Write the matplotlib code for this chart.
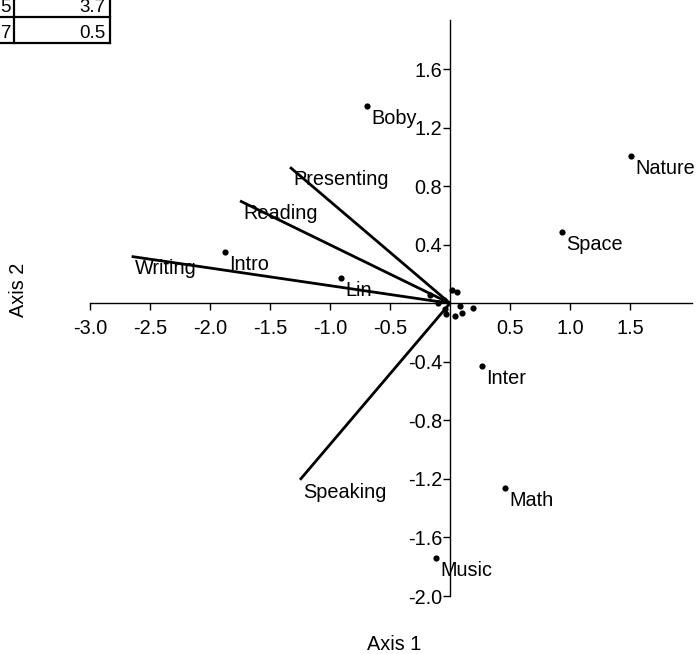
import matplotlib
matplotlib.use("Agg")
import matplotlib.pyplot as plt
from matplotlib.lines import Line2D

plt.rcParams['font.family'] = ['Liberation Sans', 'DejaVu Sans']

# Row scores
row_names = ["Boby", "Nature", "Space", "Intro", "Lin", "Inter", "Math", "Music"]
row_x = [-0.69, 1.508, 0.933, -1.875, -0.908, 0.267, 0.458, -0.117]
row_y = [1.347, 1.005, 0.485, 0.351, 0.175, -0.426, -1.26, -1.74]

# Unlabelled rows clustered near the origin
small_x = [0.015, 0.06, -0.17, -0.10, -0.05, -0.04, -0.035, 0.08, 0.10, 0.04, 0.19]
small_y = [0.09, 0.075, 0.055, 0.00, 0.02, -0.04, -0.07, -0.02, -0.065, -0.09, -0.03]

# Variable loadings (biplot vectors)
var_names = ["Writing", "Reading", "Presenting", "Speaking"]
var_x = [-2.653, -1.75, -1.333, -1.25]
var_y = [0.32, 0.70, 0.93, -1.206]

# Tick values
xticks = [-3.0, -2.5, -2.0, -1.5, -1.0, -0.5, 0.5, 1.0, 1.5]
yticks = [-2.0, -1.6, -1.2, -0.8, -0.4, 0.4, 0.8, 1.2, 1.6]

# Inset eigenvalue table fragment
table_idx = ["5", "7"]
table_val = ["3.7", "0.5"]

W, H = 697, 654
FS = 14.3
fig = plt.figure(figsize=(W / 100, H / 100), dpi=100)

def fx(px):
    return px / W

def fy(py):
    return 1 - py / H

xmin, xmax = -3.0, 2.017
ymin, ymax = -2.0, 1.936
ax = fig.add_axes([fx(90), fy(596), fx(692) - fx(90), fy(20) - fy(596)])
ax.set_xlim(xmin, xmax)
ax.set_ylim(ymin, ymax)

for s in ["top", "right"]:
    ax.spines[s].set_visible(False)
ax.spines["left"].set_position(("data", 0))
ax.spines["bottom"].set_position(("data", 0))
ax.spines["left"].set_linewidth(1.0)
ax.spines["bottom"].set_linewidth(1.0)

ax.set_xticks(xticks)
ax.set_xticklabels([f"{v:.1f}" for v in xticks])
ax.set_yticks(yticks)
ax.set_yticklabels([f"{v:.1f}" for v in yticks])
ax.tick_params(axis="both", direction="out", length=5, width=1.0,
               labelsize=FS, colors="black")
ax.tick_params(axis="x", pad=6.5)
ax.tick_params(axis="y", pad=0.5)

# Vectors
for name, vx, vy in zip(var_names, var_x, var_y):
    ax.plot([0, vx], [0, vy], color="black", lw=2.0, solid_capstyle="butt", zorder=3)
    ax.annotate(name, (vx, vy), xytext=(3, -18), textcoords="offset pixels",
                ha="left", va="baseline", fontsize=FS, zorder=4)

# Points
ax.scatter(small_x, small_y, s=20, color="black", zorder=5, linewidths=0)
ax.scatter(row_x, row_y, s=20, color="black", zorder=5, linewidths=0)
for name, px_, py_ in zip(row_names, row_x, row_y):
    ax.annotate(name, (px_, py_), xytext=(4, -18), textcoords="offset pixels",
                ha="left", va="baseline", fontsize=FS, zorder=4)

fig.text(fx(394), fy(645), "Axis 1", ha="center", va="center", fontsize=FS)
fig.text(fx(18), fy(290), "Axis 2", ha="center", va="center", fontsize=FS, rotation=90)

# Table fragment in the corner
lw_t = 1.6
row_edges = [-9, 17, 43]
col_edges = [14, 110]
for yy in row_edges[1:]:
    fig.add_artist(Line2D([fx(-5), fx(110)], [fy(yy), fy(yy)], color="black",
                          lw=lw_t, transform=fig.transFigure))
for xx in col_edges:
    fig.add_artist(Line2D([fx(xx), fx(xx)], [fy(-5), fy(43)], color="black",
                          lw=lw_t, transform=fig.transFigure))
for i, (a, b) in enumerate(zip(table_idx, table_val)):
    yc = (row_edges[i] + row_edges[i + 1]) / 2 + 3
    fig.text(fx(11), fy(yc), a, ha="right", va="center", fontsize=13.5)
    fig.text(fx(105), fy(yc), b, ha="right", va="center", fontsize=13.5)

fig.savefig("out.png", dpi=100)
